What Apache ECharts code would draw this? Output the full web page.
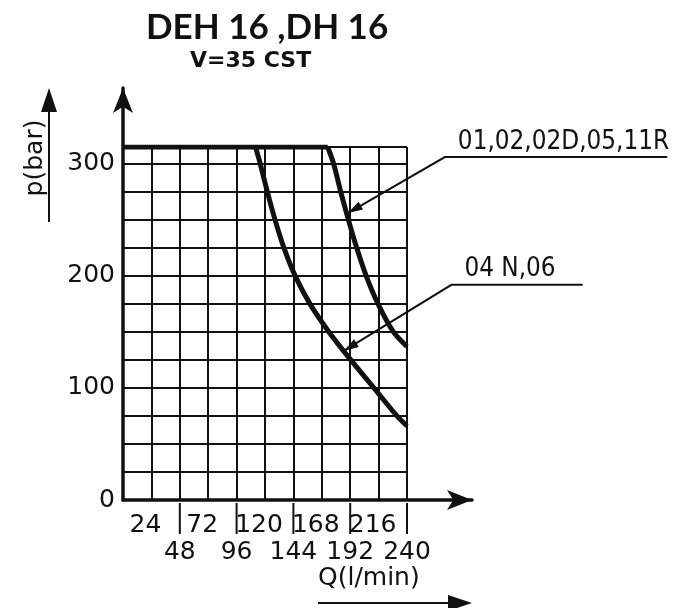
<!DOCTYPE html>
<html>
<head>
<meta charset="utf-8">
<script src="https://cdn.jsdelivr.net/npm/echarts@6/dist/echarts.min.js"></script>
<style>
  html, body { margin: 0; padding: 0; background: #fff; }
  #chart { width: 684px; height: 608px; }
</style>
</head>
<body>
<div id="chart"></div>
<script>
// tick labels
const upperQLabels = [24, 72, 120, 168, 216];
const lowerQLabels = [48, 96, 144, 192, 240];
const pLabels = [0, 100, 200, 300];

// flat pressure limit (bar) up to where the curves drop off
const flatQ = [0, 173];
const flatP = [315, 315];

// 01,02,02D,05,11R
const curveAQ = [173, 178, 184, 190.5, 197.5, 205.5, 215.5, 228.5, 240];
const curveAP = [315, 300, 275, 250, 225, 200, 175, 150, 137];

// 04 N,06
const curveBQ = [112, 116, 122, 128.5, 136, 145.5, 158, 174, 192.5, 212, 231.5, 240];
const curveBP = [315, 300, 275, 250, 225, 200, 175, 150, 125, 100, 75, 66];

const ink = "#111";
const font = "DejaVu Sans";

const zip = (xs, ys) => xs.map((x, i) => [x, ys[i]]);

const curveLine = {
  type: "line",
  xAxisIndex: 0,
  yAxisIndex: 0,
  symbol: "none",
  silent: true,
  lineStyle: { color: ink, width: 5 },
};

let chart = echarts.init(document.getElementById("chart"));
let option = {
  backgroundColor: "#fff",
  animation: false,
  title: [
    {
      text: "DEH 16 ,DH 16",
      left: 141,
      top: 5,
      textStyle: { fontFamily: "Lato", fontWeight: "bold", fontSize: 35, color: ink },
    },
    {
      text: "V=35 CST",
      left: 185,
      top: 45,
      textStyle: { fontFamily: font, fontWeight: "bold", fontSize: 22, color: ink },
    },
  ],
  grid: [
    // data grid
    { left: 123, right: 277, top: 147, bottom: 108, outerBoundsMode: "none" },
    // axes with arrows
    { left: 123, right: 212, top: 88, bottom: 108, outerBoundsMode: "none" },
  ],
  xAxis: [
    {
      gridIndex: 0,
      type: "value",
      min: 0,
      max: 240,
      interval: 24,
      axisLine: { show: false },
      axisTick: { show: false },
      splitLine: { show: true, lineStyle: { color: ink, width: 2 } },
      axisLabel: {
        margin: 13,
        formatter(v) {
          if (upperQLabels.includes(v)) return "{a|" + v + "}";
          if (lowerQLabels.includes(v)) return "{b|" + v + "}";
          return "";
        },
        rich: {
          a: { fontFamily: font, fontSize: 25, color: ink, padding: [0, 12, 0, 0] },
          b: { fontFamily: font, fontSize: 25, color: ink, padding: [27, 0, 0, 0] },
        },
      },
    },
    {
      gridIndex: 1,
      type: "value",
      min: 0,
      max: 1,
      axisLine: {
        show: true,
        symbol: ["none", "arrow"],
        symbolSize: [15, 25],
        lineStyle: { color: ink, width: 3.5 },
      },
      axisTick: { show: false },
      axisLabel: { show: false },
      splitLine: { show: false },
    },
  ],
  yAxis: [
    {
      gridIndex: 0,
      type: "value",
      min: 0,
      max: 315,
      interval: 25,
      axisLine: { show: false },
      axisTick: { show: false },
      splitLine: { show: true, lineStyle: { color: ink, width: 2 } },
      axisLabel: {
        margin: 8,
        fontFamily: font,
        fontSize: 25,
        color: ink,
        formatter: (v) => (pLabels.includes(v) ? String(v) : ""),
      },
    },
    {
      gridIndex: 1,
      type: "value",
      min: 0,
      max: 1,
      axisLine: {
        show: true,
        symbol: ["none", "arrow"],
        symbolSize: [15, 25],
        lineStyle: { color: ink, width: 3.5 },
      },
      axisTick: { show: false },
      axisLabel: { show: false },
      splitLine: { show: false },
    },
  ],
  series: [
    Object.assign({}, curveLine, { name: "limit", data: zip(flatQ, flatP) }),
    Object.assign({}, curveLine, { name: "01,02,02D,05,11R", data: zip(curveAQ, curveAP), smooth: 0.3 }),
    Object.assign({}, curveLine, { name: "04 N,06", data: zip(curveBQ, curveBP), smooth: 0.3 }),
  ],
};
chart.setOption(option, true);

// annotations: leader lines point at a value on each curve
const px = (q, p) => chart.convertToPixel({ gridIndex: 0 }, [q, p]);

function arrowHead(tx, ty, fx, fy, len, half) {
  const a = Math.atan2(ty - fy, tx - fx);
  const bx = tx - len * Math.cos(a), by = ty - len * Math.sin(a);
  const nx = -Math.sin(a) * half, ny = Math.cos(a) * half;
  return {
    type: "polygon",
    shape: { points: [[tx, ty], [bx + nx, by + ny], [bx - nx, by - ny]] },
    style: { fill: ink },
  };
}

let graphics = [];

// separators below the Q axis
lowerQLabels.forEach((q) => {
  const [x, y] = px(q, 0);
  graphics.push({
    type: "line",
    shape: { x1: x, y1: y + 3, x2: x, y2: y + 34 },
    style: { stroke: ink, lineWidth: 2 },
  });
});

const callouts = [
  { text: "01,02,02D,05,11R", tip: [190, 256], elbow: [272, 306], end: [460, 306] },
  { text: "04 N,06", tip: [186.5, 133], elbow: [277.5, 192], end: [388.5, 192] },
];
callouts.forEach((c) => {
  const t = px(c.tip[0], c.tip[1]);
  const e = px(c.elbow[0], c.elbow[1]);
  const f = px(c.end[0], c.end[1]);
  graphics.push({
    type: "polyline",
    shape: { points: [t, e, f] },
    style: { stroke: ink, lineWidth: 2, fill: null },
  });
  graphics.push(arrowHead(t[0], t[1], e[0], e[1], 15, 4.5));
  graphics.push({
    type: "text",
    x: e[0] + 13,
    y: e[1] - 2,
    scaleX: 0.86,
    style: {
      text: c.text,
      fontFamily: font,
      fontSize: 27,
      fill: ink,
      textVerticalAlign: "bottom",
    },
  });
});

// axis titles with their arrows
graphics.push({
  type: "text",
  x: 35,
  y: 158,
  rotation: Math.PI / 2,
  style: {
    text: "p(bar)",
    fontFamily: font,
    fontSize: 25,
    fill: ink,
    textAlign: "center",
    textVerticalAlign: "middle",
  },
});
graphics.push({
  type: "line",
  shape: { x1: 49, y1: 222, x2: 49, y2: 105 },
  style: { stroke: ink, lineWidth: 2 },
});
graphics.push(arrowHead(49, 88, 49, 222, 24, 8));

graphics.push({
  type: "text",
  x: 318,
  y: 591,
  style: {
    text: "Q(l/min)",
    fontFamily: font,
    fontSize: 25,
    fill: ink,
    textVerticalAlign: "bottom",
  },
});
graphics.push({
  type: "line",
  shape: { x1: 318, y1: 603, x2: 452, y2: 603 },
  style: { stroke: ink, lineWidth: 2 },
});
graphics.push(arrowHead(472, 603, 318, 603, 24, 8));

chart.setOption({ graphic: graphics });
</script>
</body>
</html>
